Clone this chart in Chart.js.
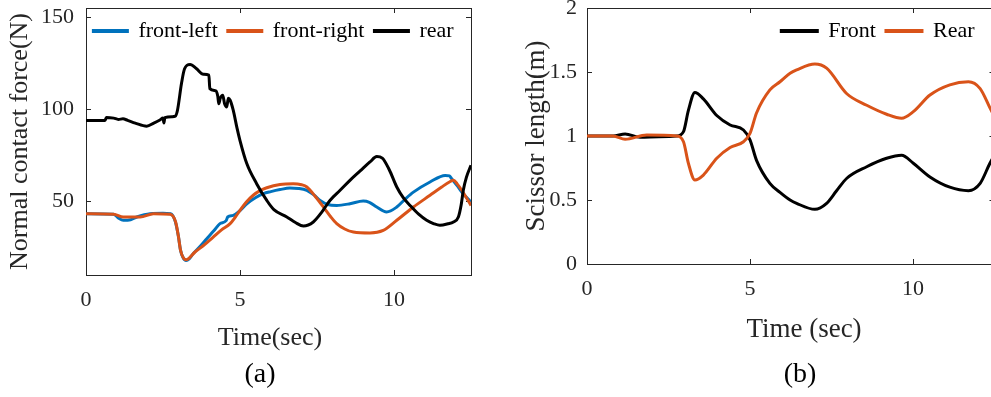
<!DOCTYPE html>
<html lang="en">
<head>
<meta charset="UTF-8">
<title>Contact force and scissor length</title>
<script src="https://cdn.jsdelivr.net/npm/chart.js"></script>
<style>
  html, body { margin: 0; padding: 0; background: #fff; overflow: hidden; }
  body { position: relative; width: 991px; height: 397px; font-family: "Liberation Serif", "Times New Roman", serif; color: #262626; }
  canvas { position: absolute; top: 0; }
  #chartA { left: 0; }
  #chartB { left: 500px; }
  .lbl { position: absolute; transform: translate(-50%, -50%); line-height: 1; white-space: nowrap; }
</style>
</head>
<body>
<canvas id="chartA" width="500" height="397"></canvas>
<canvas id="chartB" width="500" height="397"></canvas>
<div class="lbl" style="left:270px; top:337px; font-size:26px">Time(sec)</div>
<div class="lbl" style="left:260px; top:373px; font-size:28px; color:#000">(a)</div>
<div class="lbl" style="left:804px; top:328px; font-size:27px">Time (sec)</div>
<div class="lbl" style="left:800px; top:373px; font-size:28px; color:#000">(b)</div>

<script>
// ---- (a) normal contact force (N) vs time (sec) ----
const rearT = [0, 0.62, 0.66, 0.9, 1.05, 1.2, 1.35, 1.6, 1.97, 2.2, 2.4, 2.5, 2.53, 2.56, 2.8, 2.9, 2.97, 3.1, 3.2, 3.38,
  3.59, 3.81, 3.99, 4.02, 4.22, 4.28, 4.31, 4.36, 4.44, 4.5, 4.57, 4.62, 4.68, 4.78, 4.9, 5.0, 5.22, 5.54, 5.87, 6.1,
  6.52, 6.8, 7.06, 7.38, 7.65, 7.92, 8.25, 8.57, 8.9, 9.22, 9.44, 9.62, 9.85, 10.09, 10.3, 10.52, 10.8, 11.06, 11.3,
  11.49, 11.75, 11.93, 12.09, 12.18, 12.25, 12.35, 12.5];
const rearN = [93.9, 93.9, 95.6, 95.2, 94.5, 94.8, 94, 92.5, 90.8, 92.5, 94.2, 95.2, 92.5, 95.5, 96, 96.3, 99.5, 114, 122, 124.3,
  122, 119, 118.5, 111.2, 110, 107, 103, 106, 107.6, 103, 101.3, 106, 104.9, 99.5, 90, 83, 70.5, 59.6, 50.5, 45.5,
  41.5, 38.5, 36.6, 38.8, 44, 50.5, 56, 61.4, 66.5, 71.4, 74.3, 73.5, 67, 57.8, 52, 47.8, 43, 39.7, 37.8,
  37, 37.8, 38.8, 41.5, 48, 56, 63, 69.6];

const frontLeftT = [0, 0.9, 1.05, 1.21, 1.45, 1.65, 2.08, 2.5, 2.75, 2.9, 3.0, 3.07, 3.15, 3.25, 3.35, 3.48, 3.7, 3.92,
  4.15, 4.35, 4.55, 4.6, 4.78, 5.0, 5.22, 5.5, 5.76, 6.0, 6.3, 6.62, 6.9, 7.17, 7.4, 7.6, 7.85, 8.14, 8.57, 9.0, 9.2,
  9.44, 9.76, 10.09, 10.35, 10.63, 11.17, 11.66, 11.8, 11.87, 12.05, 12.2, 12.5];
const frontLeftN = [43.3, 43, 41, 39.7, 40, 41.5, 43.3, 43.5, 43.3, 39, 31, 23.4, 19.5, 17.9, 18.8, 21.6, 25.5, 29.7,
  34, 37.9, 39.5, 41.5, 42.4, 45, 48.7, 52, 54.2, 55.3, 56.4, 57.2, 57, 56, 53.5, 50.5, 48.3, 47.8, 48.7, 50.2, 49.5,
  46.9, 44.2, 46.9, 51, 55, 60.5, 64.1, 63.8, 62.3, 58.5, 55, 49.6];

const frontRightT = [0, 0.9, 1.21, 1.76, 2.19, 2.73, 2.91, 3.0, 3.07, 3.25, 3.54, 3.85, 4.13, 4.4, 4.68, 4.85, 5.0, 5.2,
  5.43, 5.65, 5.87, 6.3, 6.73, 7.0, 7.17, 7.45, 7.71, 7.95, 8.14, 8.4, 8.68, 9.22, 9.65, 10.09, 10.63, 11.17, 11.55,
  11.8, 11.93, 12.05, 12.2, 12.5];
const frontRightN = [43.3, 43, 41.5, 41.5, 43.3, 43, 38.8, 31, 23.4, 18.3, 22.5, 26.5, 30.6, 34.5, 37.9, 41.5, 45.1, 49.5,
  53.3, 55.8, 57.4, 59.2, 59.6, 59, 57.8, 52.5, 46.9, 41.5, 37.9, 35, 33.3, 32.8, 34.2, 39.7, 46.9, 53.3, 57.8,
  60.5, 61.4, 59.5, 56, 47.8];

// ---- (b) scissor length (m) vs time (sec) ----
const frontT = [0, 0.8, 1.17, 1.63, 2.2, 2.75, 2.96, 3.11, 3.31, 3.57, 3.98, 4.39, 4.8, 5.0, 5.2, 5.61, 5.92, 6.23, 6.43,
  6.99, 7.35, 7.65, 7.97, 8.58, 9.19, 9.65, 10.01, 10.52, 11.13, 11.7, 12.06, 12.36, 12.5];
const frontL = [1.0, 1.0, 1.016, 0.99, 0.995, 1.0, 1.034, 1.2, 1.34, 1.29, 1.16, 1.086, 1.047, 0.97, 0.81, 0.63, 0.56, 0.5, 0.474,
  0.427, 0.474, 0.57, 0.67, 0.76, 0.826, 0.85, 0.787, 0.68, 0.6, 0.573, 0.63, 0.787, 0.85];

const rearBT = [0, 0.8, 1.17, 1.83, 2.75, 2.96, 3.11, 3.31, 3.57, 3.98, 4.39, 4.8, 5.0, 5.2, 5.61, 5.92, 6.23, 6.43, 6.99,
  7.35, 7.97, 8.58, 9.19, 9.65, 10.01, 10.52, 11.13, 11.7, 12.06, 12.36, 12.5];
const rearL = [1.0, 1.0, 0.974, 1.008, 1.0, 0.955, 0.787, 0.656, 0.695, 0.826, 0.91, 0.955, 1.02, 1.18, 1.36, 1.424, 1.49, 1.516, 1.5625,
  1.53, 1.33, 1.24, 1.17, 1.138, 1.19, 1.32, 1.4, 1.424, 1.37, 1.22, 1.15];

// ---- tick labels ----
const timeTicks = [0, 5, 10];
const forceTicks = [50, 100, 150];
const lengthTicks = [0, 0.5, 1, 1.5, 2];

const AXIS = '#262626';
const SERIF = '"Liberation Serif", "Times New Roman", serif';
const BLUE = '#0072BD', ORANGE = '#D95319', BLACK = '#000000';

function pts(ts, vs) {
  return ts.map((t, i) => ({ x: t, y: vs[i] }));
}

function line(label, data, color, order) {
  return {
    label: label, data: data, order: order,
    borderColor: color, backgroundColor: color, borderWidth: 3,
    pointRadius: 0, cubicInterpolationMode: 'monotone'
  };
}

// MATLAB-style box axis: inward ticks, no grid lines
function axis(o) {
  return {
    type: 'linear', axis: o.axis, position: o.position,
    min: o.min, max: o.max,
    afterBuildTicks: s => { s.ticks = o.ticks.map(v => ({ value: v })); },
    afterFit: s => {
      if (s.isHorizontal()) s.height = o.size; else s.width = o.size;
      s.paddingTop = s.paddingBottom = s.paddingLeft = s.paddingRight = 0;
    },
    border: { display: true, color: AXIS, width: 1 },
    grid: { display: true, drawOnChartArea: false, drawTicks: true, tickLength: -5, color: AXIS, lineWidth: 1 },
    ticks: {
      display: !!o.labels, padding: o.pad || 0, color: AXIS,
      font: { family: SERIF, size: 22 }, callback: v => String(v)
    },
    title: o.title
      ? { display: true, text: o.title, color: AXIS, font: { family: SERIF, size: o.titleSize }, padding: { top: o.titlePad, bottom: 0 } }
      : { display: false }
  };
}

// keep the legend inside the plot box: it takes no layout room,
// then gets its real height back so the legend clip does not hide it
const insideLegend = {
  id: 'insideLegend',
  beforeInit(chart) {
    const fit = chart.legend.fit;
    chart.legend.fit = function () {
      fit.call(this);
      this._fullHeight = this.height;
      this.height = 0;
    };
  },
  afterLayout(chart, args, opts) {
    const lg = chart.legend;
    lg.left += opts.dx; lg.right += opts.dx;
    lg.top += opts.dy;
    lg.height = lg._fullHeight;
    lg.bottom = lg.top + lg.height;
  }
};

function legendOpts(align, boxWidth) {
  return {
    position: 'top', fullSize: false, align: align,
    labels: {
      boxWidth: boxWidth, boxHeight: 1, padding: 10, color: '#000',
      font: { family: SERIF, size: 22 },
      sort: (a, b) => a.datasetIndex - b.datasetIndex
    }
  };
}

Chart.defaults.font.family = SERIF;

new Chart(document.getElementById('chartA'), {
  type: 'line',
  data: {
    datasets: [
      line('front-left', pts(frontLeftT, frontLeftN), BLUE, 3),
      line('front-right', pts(frontRightT, frontRightN), ORANGE, 2),
      line('rear', pts(rearT, rearN), BLACK, 1)
    ]
  },
  options: {
    responsive: false, animation: false, events: [],
    layout: { padding: { left: 0, top: 8, right: 29, bottom: 0 } },
    scales: {
      x: axis({ axis: 'x', position: 'bottom', min: 0, max: 12.5, ticks: timeTicks, size: 122, labels: true, pad: 17 }),
      x2: axis({ axis: 'x', position: 'top', min: 0, max: 12.5, ticks: timeTicks, size: 0 }),
      y: axis({ axis: 'y', position: 'left', min: 10, max: 155, ticks: forceTicks, size: 86, labels: true, pad: 17,
        title: 'Normal contact force(N)', titleSize: 26, titlePad: 5 }),
      y2: axis({ axis: 'y', position: 'right', min: 10, max: 155, ticks: forceTicks, size: 0 })
    },
    plugins: {
      legend: legendOpts('center', 34),
      tooltip: { enabled: false },
      insideLegend: { dx: -5, dy: 2 }
    }
  },
  plugins: [insideLegend]
});

new Chart(document.getElementById('chartB'), {
  type: 'line',
  data: {
    datasets: [
      line('Front', pts(frontT, frontL), BLACK, 2),
      line('Rear', pts(rearBT, rearL), ORANGE, 1)
    ]
  },
  options: {
    responsive: false, animation: false, events: [],
    layout: { padding: { left: 0, top: 8, right: 5.5, bottom: 0 } },
    scales: {
      x: axis({ axis: 'x', position: 'bottom', min: 0, max: 12.5, ticks: timeTicks, size: 133, labels: true, pad: 17 }),
      x2: axis({ axis: 'x', position: 'top', min: 0, max: 12.5, ticks: timeTicks, size: 0 }),
      y: axis({ axis: 'y', position: 'left', min: 0, max: 2, ticks: lengthTicks, size: 87, labels: true, pad: 15,
        title: 'Scissor length(m)', titleSize: 27, titlePad: 21 }),
      y2: axis({ axis: 'y', position: 'right', min: 0, max: 2, ticks: lengthTicks, size: 0 })
    },
    plugins: {
      legend: legendOpts('end', 36),
      tooltip: { enabled: false },
      insideLegend: { dx: -10, dy: 2 }
    }
  },
  plugins: [insideLegend]
});
</script>
</body>
</html>
